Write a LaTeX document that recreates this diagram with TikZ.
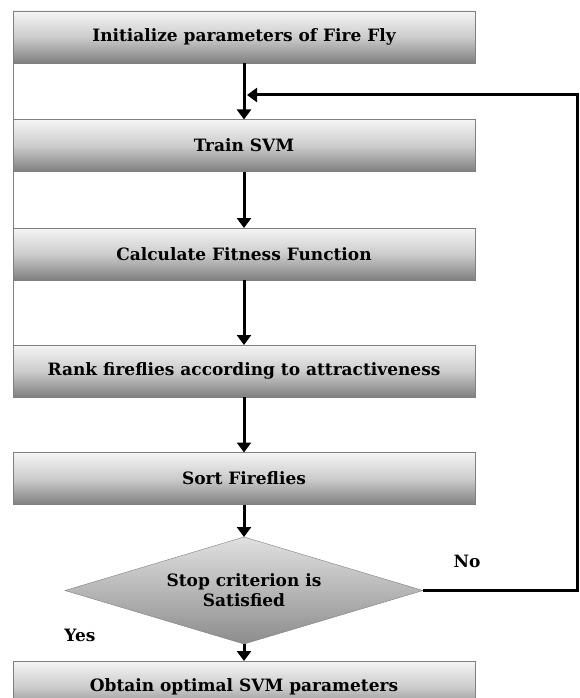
\documentclass[tikz,border=0pt]{standalone}
\usepackage{fontspec}
\setmainfont{DejaVu Serif}
\usetikzlibrary{shapes.geometric,arrows.meta}

\begin{document}
\begin{tikzpicture}[x=1pt,y=-1pt,
  every node/.style={font=\fontsize{17}{20}\selectfont\bfseries},
  stage/.style={rectangle,draw=gray,top color=black!4,bottom color=black!50,
    middle color=black!20,minimum width=462pt,minimum height=52pt,
    inner sep=0pt,outer sep=0pt},
  test/.style={diamond,draw=gray,top color=black!12,bottom color=black!45,
    aspect=3.35,minimum width=358pt,minimum height=107pt,inner sep=0pt,
    outer sep=0pt,align=center},
  flow/.style={line width=3pt,-{Triangle[width=14pt,length=10pt]}}]
\useasboundingbox (0,0) rectangle (579,698);
\clip (0,0) rectangle (579,698);
\node [stage] (v0) at (244,37) {Initialize parameters of Fire Fly};
\node [stage] (v1) at (244,145.5) {Train SVM};
\node [stage] (v2) at (244,254) {Calculate Fitness Function};
\node [stage] (v3) at (244,371) {Rank fireflies according to attractiveness};
\node [stage] (v4) at (244,478.5) {Sort Fireflies};
\node [test] (v5) at (244,590.5) {Stop criterion is\\Satisfied};
\node [stage] (v6) at (244,687) {Obtain optimal SVM parameters};
\node (yes) at (80,635) {Yes};
\node (no) at (467,561) {No};
\coordinate (c0) at (577,95);
\coordinate (c1) at (247,95);
\draw [gray] (v0.south west) -- (v3.north west);
\draw [flow] (v0) -- (v1);
\draw [flow] (v1) -- (v2);
\draw [flow] (v2) -- (v3);
\draw [flow] (v3) -- (v4);
\draw [flow] (v4) -- (v5);
\draw [flow] (v5) -- (v6);
\draw [flow] (v5.east) -| (c0) -- (c1);
\end{tikzpicture}
\end{document}
